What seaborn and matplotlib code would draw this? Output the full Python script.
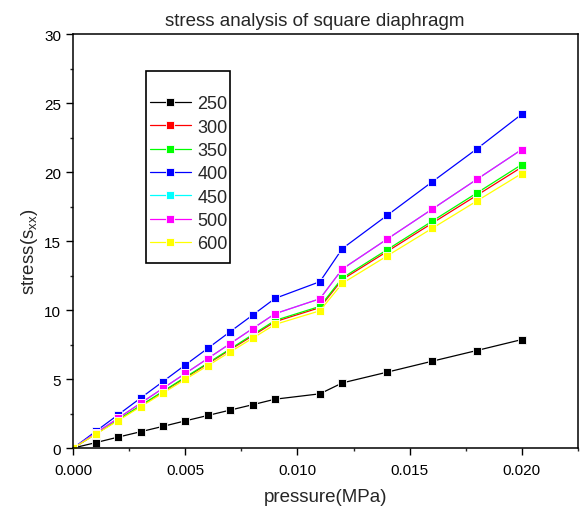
import numpy as np
import pandas as pd
import matplotlib
matplotlib.use("Agg")
import matplotlib.pyplot as plt
from matplotlib.patches import Rectangle
from matplotlib.ticker import MultipleLocator, FormatStrFormatter
import seaborn as sns

pressure = [0, 0.001, 0.002, 0.003, 0.004, 0.005, 0.006, 0.007, 0.008, 0.009,
            0.011, 0.012, 0.014, 0.016, 0.018, 0.020]

s250 = [0, 0.39, 0.79, 1.18, 1.57, 1.97, 2.36, 2.75, 3.14, 3.54, 3.93, 4.72, 5.50, 6.29, 7.07, 7.86]
s300 = [0, 1.02, 2.04, 3.05, 4.07, 5.09, 6.11, 7.13, 8.14, 9.16, 10.18, 12.22, 14.25, 16.29, 18.32, 20.36]
s350 = [0, 1.03, 2.05, 3.08, 4.11, 5.14, 6.16, 7.19, 8.22, 9.25, 10.27, 12.33, 14.38, 16.44, 18.49, 20.55]
s400 = [0, 1.21, 2.41, 3.62, 4.82, 6.03, 7.23, 8.44, 9.64, 10.85, 12.06, 14.46, 16.87, 19.29, 21.69, 24.20]
s450 = [0, 1.08, 2.16, 3.25, 4.33, 5.41, 6.49, 7.57, 8.66, 9.74, 10.82, 12.98, 15.15, 17.31, 19.48, 21.64]
s500 = [0, 1.08, 2.16, 3.25, 4.33, 5.41, 6.49, 7.57, 8.66, 9.74, 10.82, 12.98, 15.15, 17.31, 19.48, 21.64]
s600 = [0, 1.00, 1.99, 2.99, 3.98, 4.98, 5.97, 6.97, 7.96, 8.96, 9.95, 11.94, 13.93, 15.92, 17.91, 19.90]

labels = ["250", "300", "350", "400", "450", "500", "600"]
colors = ["#000000", "#ff0000", "#00ff00", "#0000ff", "#00ffff", "#ff00ff", "#ffff00"]

# long table for seaborn
series = [s250, s300, s350, s400, s450, s500, s600]
df = pd.concat([pd.DataFrame({"pressure": pressure, "stress": s, "series": lab})
                for s, lab in zip(series, labels)], ignore_index=True)

sns.set_style("ticks")
plt.rcParams["font.family"] = ["Liberation Sans", "DejaVu Sans"]
plt.rcParams["mathtext.default"] = "regular"

fig = plt.figure(figsize=(5.81, 5.10), dpi=100)
ax = fig.add_axes([0.1262, 0.1196, 0.9943 - 0.1262, 0.9308 - 0.1196])

sns.lineplot(data=df, x="pressure", y="stress", hue="series", hue_order=labels,
             palette=dict(zip(labels, colors)), marker="s", markersize=6,
             markeredgecolor="white", markeredgewidth=0.6, linewidth=0.9,
             sort=False, estimator=None, ax=ax)

ax.set_xlim(0, 0.0225)
ax.set_ylim(0, 30)
ax.xaxis.set_major_locator(MultipleLocator(0.005))
ax.xaxis.set_minor_locator(MultipleLocator(0.0025))
ax.yaxis.set_major_locator(MultipleLocator(5))
ax.yaxis.set_minor_locator(MultipleLocator(2.5))
ax.xaxis.set_major_formatter(FormatStrFormatter("%.3f"))
ax.tick_params(which="major", direction="out", length=5, width=1, labelsize=11,
               top=False, right=False, color="black", labelcolor="black")
ax.tick_params(which="minor", direction="out", length=2.5, width=1, top=False, right=False)
ax.tick_params(axis="x", which="major", pad=5.8)
ax.tick_params(axis="y", which="major", pad=3.8)
for sp in ax.spines.values():
    sp.set_visible(True)
    sp.set_linewidth(1.1)
    sp.set_color("black")

ax.set_xlabel("pressure(MPa)", fontsize=13.5, labelpad=8)
ax.set_ylabel(r"stress(s$_{xx}$)", fontsize=13.5, labelpad=3, y=0.476)
ax.set_title("stress analysis of square diaphragm", fontsize=13.5, pad=7, x=0.479)

leg = ax.legend(loc="upper left", bbox_to_anchor=(0.130, 0.911), fontsize=13,
                title=" ", title_fontsize=6, frameon=False,
                handlelength=2.3, handletextpad=0.35, labelspacing=0.35,
                borderpad=0.6, borderaxespad=0)

# legend box drawn separately (it has more room above than at the sides)
ax.add_patch(Rectangle((0.144, 0.447), 0.311 - 0.144, 0.911 - 0.447,
                       transform=ax.transAxes, fill=False, edgecolor="black",
                       linewidth=1.2, zorder=5))

fig.savefig("out.png", dpi=100)
